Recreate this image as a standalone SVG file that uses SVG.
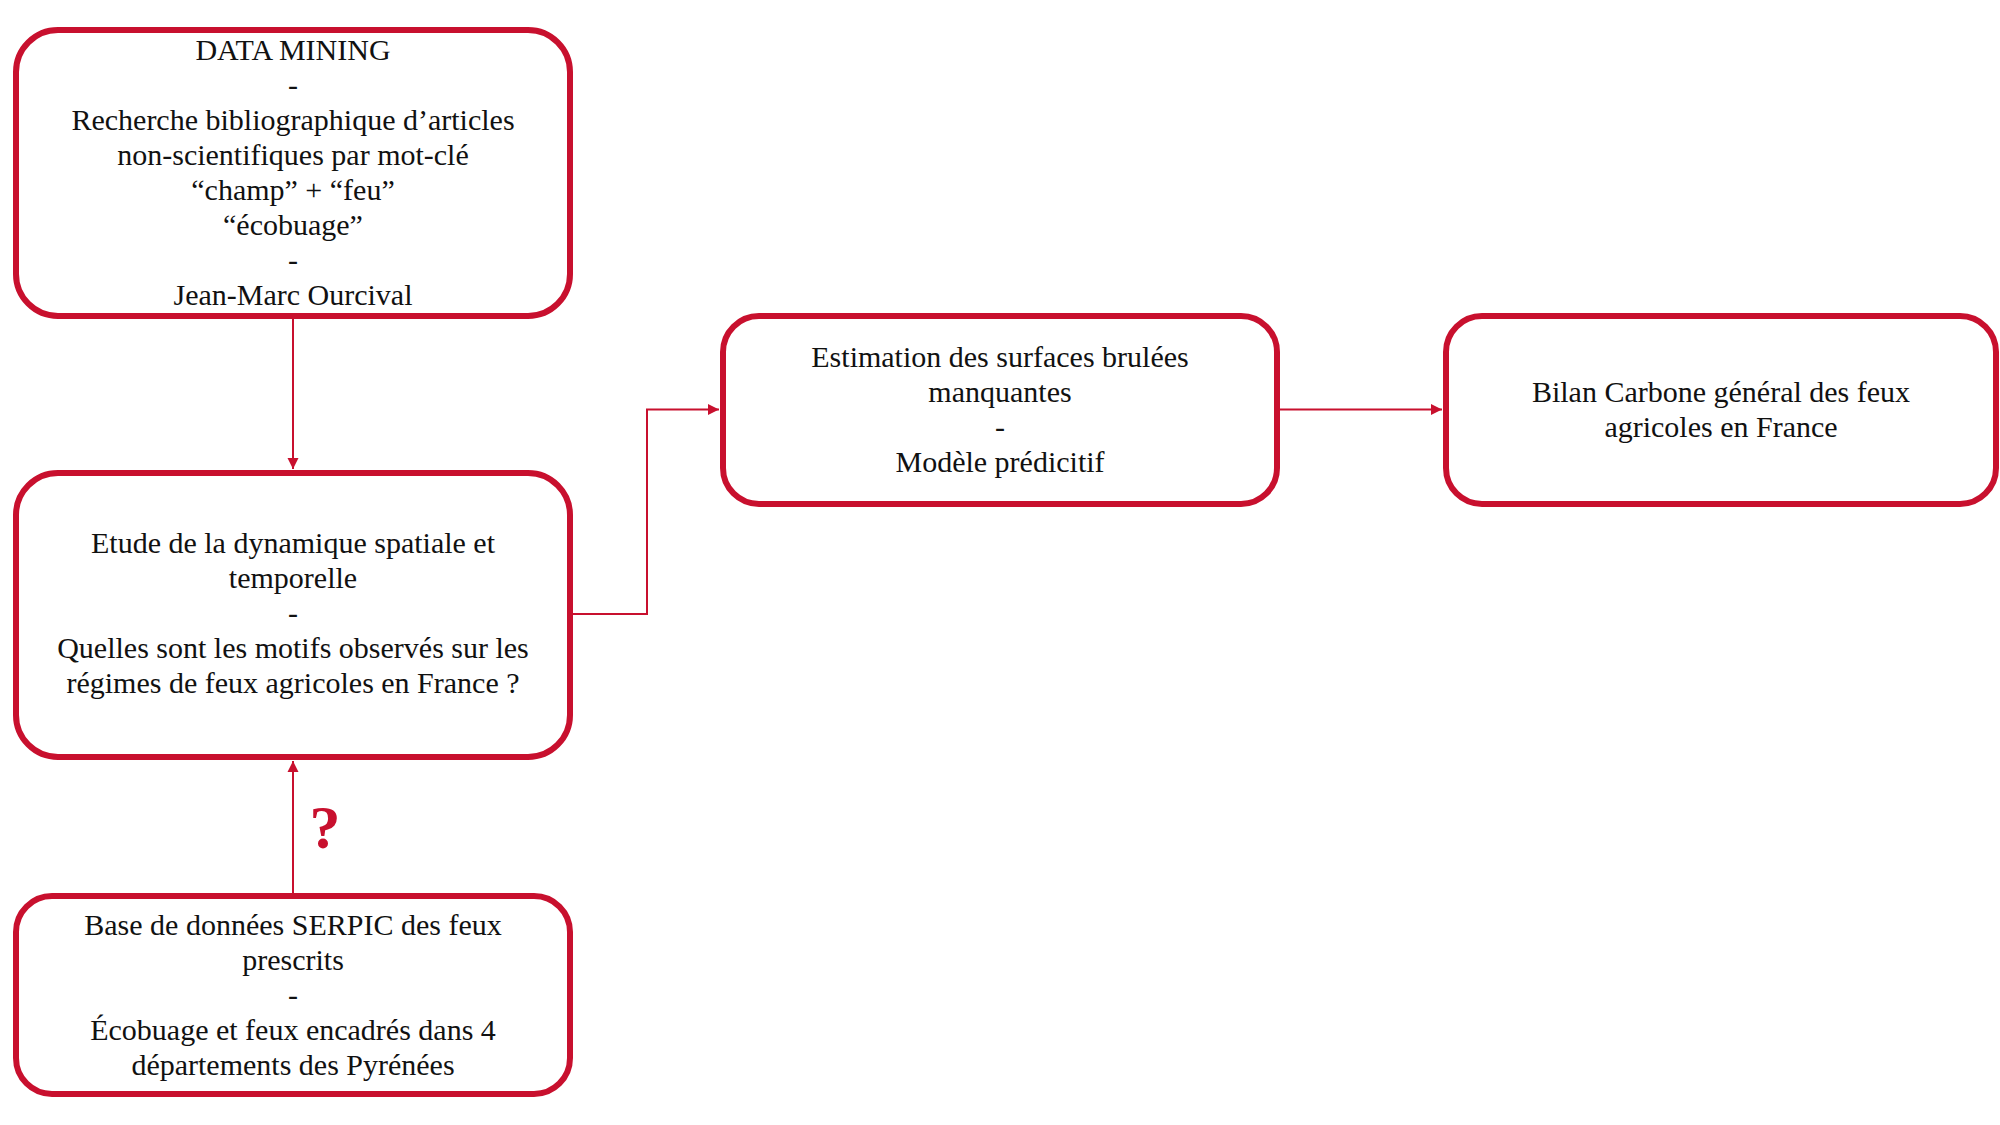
<svg xmlns="http://www.w3.org/2000/svg" width="2000" height="1125" viewBox="0 0 2000 1125">
<style>
.box{fill:#fff;stroke:#c8102e;stroke-width:6}
.t{font-family:"Liberation Serif","Times New Roman",serif;font-size:30px;fill:#111;text-anchor:middle}
.c{fill:none;stroke:#c8102e;stroke-width:2}
.q{font-family:"Liberation Serif","Times New Roman",serif;font-size:62px;font-weight:bold;fill:#c8102e;text-anchor:middle}
</style>
<defs>
<marker id="arr" markerWidth="12" markerHeight="12" refX="11" refY="6" orient="auto" markerUnits="userSpaceOnUse">
<path d="M0,0.5 L11,6 L0,11.5 Z" fill="#c8102e"/>
</marker>
</defs>
<rect width="2000" height="1125" fill="#fff"/>
<g id="connectors">
<path class="c" d="M293,316 V469" marker-end="url(#arr)"/>
<path class="c" d="M293,895 V761" marker-end="url(#arr)"/>
<path class="c" d="M570,614 H647 V409.5 H719" marker-end="url(#arr)"/>
<path class="c" d="M1277,409.5 H1442" marker-end="url(#arr)"/>
<text class="q" x="325" y="848">?</text>
</g>
<g id="node1">
<rect class="box" x="16" y="30" width="554" height="286" rx="42"/>
<text class="t" x="293" y="60">DATA MINING</text>
<text class="t" x="293" y="95">-</text>
<text class="t" x="293" y="130">Recherche bibliographique d’articles</text>
<text class="t" x="293" y="165">non-scientifiques par mot-clé</text>
<text class="t" x="293" y="200">“champ” + “feu”</text>
<text class="t" x="293" y="235">“écobuage”</text>
<text class="t" x="293" y="270">-</text>
<text class="t" x="293" y="305">Jean-Marc Ourcival</text>
</g>
<g id="node2">
<rect class="box" x="16" y="473" width="554" height="284" rx="42"/>
<text class="t" x="293" y="553">Etude de la dynamique spatiale et</text>
<text class="t" x="293" y="588">temporelle</text>
<text class="t" x="293" y="623">-</text>
<text class="t" x="293" y="658">Quelles sont les motifs observés sur les</text>
<text class="t" x="293" y="693">régimes de feux agricoles en France ?</text>
</g>
<g id="node3">
<rect class="box" x="16" y="896" width="554" height="198" rx="36"/>
<text class="t" x="293" y="935">Base de données SERPIC des feux</text>
<text class="t" x="293" y="970">prescrits</text>
<text class="t" x="293" y="1005">-</text>
<text class="t" x="293" y="1040">Écobuage et feux encadrés dans 4</text>
<text class="t" x="293" y="1075">départements des Pyrénées</text>
</g>
<g id="node4">
<rect class="box" x="723" y="316" width="554" height="188" rx="36"/>
<text class="t" x="1000" y="367">Estimation des surfaces brulées</text>
<text class="t" x="1000" y="402">manquantes</text>
<text class="t" x="1000" y="437">-</text>
<text class="t" x="1000" y="472">Modèle prédicitif</text>
</g>
<g id="node5">
<rect class="box" x="1446" y="316" width="550" height="188" rx="36"/>
<text class="t" x="1721" y="402">Bilan Carbone général des feux</text>
<text class="t" x="1721" y="437">agricoles en France</text>
</g>
</svg>
